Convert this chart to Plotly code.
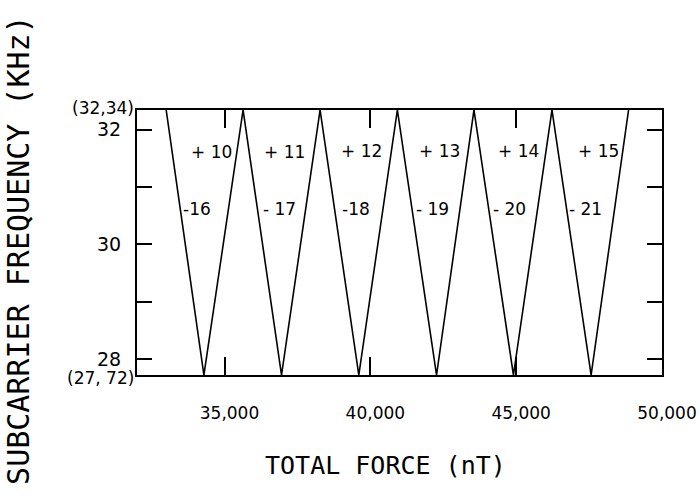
import plotly.graph_objects as go

# Triangle-wave vertices (total force, nT) and frequency (kHz)
vertex_force = [33000, 34294, 35637, 36955, 38277, 39605, 40927,
                42270, 43553, 44906, 46228, 47570, 48854]
vertex_freq = [32.34, 27.72, 32.34, 27.72, 32.34, 27.72, 32.34,
               27.72, 32.34, 27.72, 32.34, 27.72, 32.34]

plus_labels = ["+ 10", "+ 11", "+ 12", "+ 13", "+ 14", "+ 15"]
plus_force = [34570, 37048, 39698, 42383, 45068, 47821]
plus_freq = [31.6, 31.6, 31.62, 31.62, 31.62, 31.62]

minus_labels = ["-16", "- 17", "-18", "- 19", "- 20", "- 21"]
minus_force = [34053, 36876, 39492, 42142, 44758, 47374]
minus_freq = [30.62, 30.62, 30.62, 30.62, 30.62, 30.62]

x_tickvals = [35000, 40000, 45000, 50000]
x_ticktext = ["35,000", "40,000", "45,000", "50,000"]
y_tickvals = [28, 29, 30, 31, 32]
y_ticktext = ["28", "", "30", "", "32"]

x_range = [32000, 50000]
y_range = [27.72, 32.34]

fig = go.Figure()
fig.add_trace(go.Scatter(x=vertex_force, y=vertex_freq, mode="lines",
                         line=dict(color="black", width=1.6),
                         showlegend=False, hoverinfo="skip"))

label_font = dict(family="DejaVu Sans", size=17, color="black")
ann = []
for t, xv, yv in zip(plus_labels, plus_force, plus_freq):
    ann.append(dict(x=xv, y=yv, xref="x", yref="y", text=t, showarrow=False,
                    font=label_font))
for t, xv, yv in zip(minus_labels, minus_force, minus_freq):
    ann.append(dict(x=xv, y=yv, xref="x", yref="y", text=t, showarrow=False,
                    font=label_font))

corner_font = dict(family="DejaVu Sans", size=17, color="black")
ann.append(dict(x=0, y=y_range[1], xref="paper", yref="y", text="(32,34)",
                showarrow=False, xanchor="right", xshift=-1, yshift=2,
                font=corner_font))
ann.append(dict(x=0, y=y_range[0], xref="paper", yref="y", text="(27, 72)",
                showarrow=False, xanchor="right", xshift=-1, yshift=-3,
                font=corner_font))

ann.append(dict(x=0.474, y=0, xref="paper", yref="paper",
                text="TOTAL FORCE (nT)", showarrow=False,
                yanchor="middle", yshift=-90,
                font=dict(family="DejaVu Sans Mono", size=25, color="black")))
ann.append(dict(x=0, y=0.472, xref="paper", yref="paper",
                text="SUBCARRIER FREQUENCY (KHz)", showarrow=False,
                textangle=-90, xanchor="center", yanchor="middle", xshift=-118,
                font=dict(family="DejaVu Sans Mono", size=30, color="black")))

fig.update_layout(
    width=700, height=498,
    margin=dict(l=137, r=38, t=110, b=123, autoexpand=False),
    paper_bgcolor="white", plot_bgcolor="white",
    annotations=ann,
    showlegend=False,
)
fig.update_xaxes(range=x_range, tickvals=x_tickvals, ticktext=x_ticktext,
                 ticks="inside", ticklen=18, tickwidth=1.5, tickcolor="black",
                 showline=True, linecolor="black", linewidth=2, mirror="ticks",
                 showgrid=False, zeroline=False, automargin=False,
                 ticklabelstandoff=22, ticklabelshift=5,
                 tickfont=dict(family="DejaVu Sans", size=17, color="black"))
fig.update_yaxes(range=y_range, tickvals=y_tickvals, ticktext=y_ticktext,
                 ticks="inside", ticklen=15, tickwidth=1.5, tickcolor="black",
                 showline=True, linecolor="black", linewidth=2, mirror="ticks",
                 showgrid=False, zeroline=False, automargin=False,
                 ticklabelstandoff=10,
                 tickfont=dict(family="DejaVu Sans", size=19, color="black"))

fig.write_html("out.html", config={"displayModeBar": False},
               post_script="document.body.style.margin='0';")
